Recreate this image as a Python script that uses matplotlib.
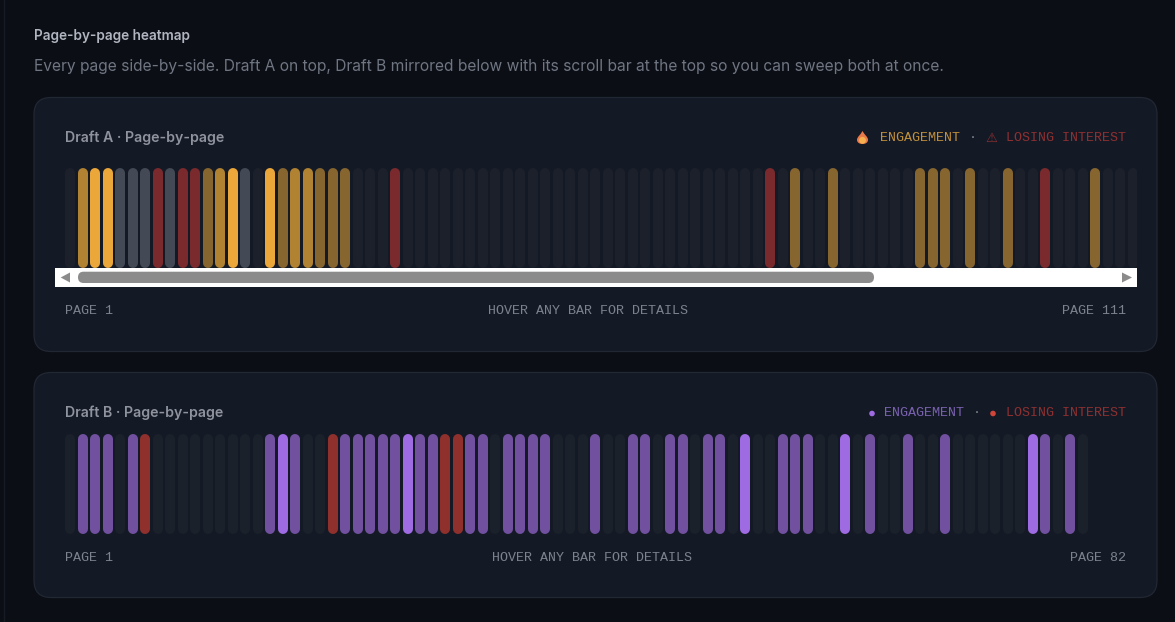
import matplotlib
matplotlib.use("Agg")
import matplotlib.pyplot as plt
from matplotlib.patches import FancyBboxPatch, Polygon, Rectangle, Circle, PathPatch
from matplotlib.path import Path

W, H = 1175, 622

# level per page: 0 none, 1 low, 2 mid, 3 high, 4 neutral, 5 losing interest
draft_a_levels = [
    0, 2, 3, 3, 4, 4, 4, 5, 4, 5, 5, 1, 2, 3, 4, 0, 3, 1, 2, 2, 1, 1, 1, 0, 0, 0, 5, 0, 0, 0,
    0, 0, 0, 0, 0, 0, 0, 0, 0, 0, 0, 0, 0, 0, 0, 0, 0, 0, 0, 0, 0, 0, 0, 0, 0, 0, 5, 0, 1, 0,
    0, 1, 0, 0, 0, 0, 0, 0, 1, 1, 1, 0, 1, 0, 0, 1, 0, 0, 5, 0, 0, 0, 1, 0, 0, 0,
]
draft_b_levels = [
    0, 1, 1, 1, 0, 1, 5, 0, 0, 0, 0, 0, 0, 0, 0, 0, 1, 3, 1, 0, 0, 5, 1, 1, 1, 1, 1, 3, 1, 1,
    5, 5, 1, 1, 0, 1, 1, 1, 1, 0, 0, 0, 1, 0, 0, 1, 1, 0, 1, 1, 0, 1, 1, 0, 3, 0, 0, 1, 1, 1,
    0, 0, 3, 0, 1, 0, 0, 1, 0, 0, 1, 0, 0, 0, 0, 0, 0, 3, 1, 0, 1, 0,
]

amber_colors = {0: "#1b202a", 1: "#86652f", 2: "#b08231", 3: "#eca73a", 4: "#434955", 5: "#7a2a2d"}
violet_colors = {0: "#1b212a", 1: "#71519f", 2: "#71519f", 3: "#9f6be3", 4: "#434955", 5: "#8f302d"}

BG = "#0b0e15"
CARD = "#141926"
CARD_EDGE = "#212733"
MONO = "Liberation Mono"
SANS = "Inter"
PITCH = 12.5
FIRST_X = 70
BAR_W = 10


def add_card(ax, top, bottom):
    box = FancyBboxPatch((34, top), 1123, bottom - top, boxstyle="round,pad=0,rounding_size=17",
                         fc=CARD, ec=CARD_EDGE, lw=0.9)
    ax.add_patch(box)


def add_heat(fig, levels, colors, left, right, top, bottom):
    # one axes per draft, x runs in page numbers
    heat = fig.add_axes([left / W, 1 - bottom / H, (right - left) / W, (bottom - top) / H])
    heat.set_xlim(1 + (left - FIRST_X) / PITCH, 1 + (right - FIRST_X) / PITCH)
    heat.set_ylim(0, bottom - top)
    heat.axis("off")
    pages = list(range(1, len(levels) + 1))
    cap = BAR_W / 2
    heat.vlines(pages, cap, bottom - top - cap, colors=[colors[v] for v in levels],
                linewidth=BAR_W * 72 / 100, capstyle="round")
    return heat


def mono(ax, x, y, s, color, ha="left", size=9.65):
    ax.text(x, y, s, color=color, family=MONO, fontsize=size, ha=ha, va="center")


def flame(ax, cx, top, bottom):
    # small flame icon built from bezier curves
    h = bottom - top
    outer = Path([(cx, top), (cx + 2, top + h * .3), (cx + 5.5, top + h * .45), (cx + 5.5, top + h * .68),
                  (cx + 5.5, bottom - 1), (cx + 2.5, bottom), (cx, bottom),
                  (cx - 2.5, bottom), (cx - 5.5, bottom - 1), (cx - 5.5, top + h * .68),
                  (cx - 5.5, top + h * .45), (cx - 2, top + h * .3), (cx, top)],
                 [Path.MOVETO] + [Path.CURVE4] * 12)
    ax.add_patch(PathPatch(outer, fc="#e8794a", ec="none"))
    ax.add_patch(Circle((cx, bottom - 3.7), 3.4, fc="#f4b04f", ec="none"))


fig = plt.figure(figsize=(W / 100, H / 100), dpi=100, facecolor=BG)
ax = fig.add_axes([0, 0, 1, 1])
ax.set_xlim(0, W)
ax.set_ylim(H, 0)
ax.axis("off")

ax.plot([3.5, 3.5], [0, H], color="#171b24", lw=1)

ax.text(34, 36, "Page-by-page heatmap", color="#b1b5bf", family=SANS, fontsize=9.8, fontweight="semibold", va="center")
ax.text(34, 67, "Every page side-by-side. Draft A on top, Draft B mirrored below with its scroll bar at the top so you can sweep both at once.",
        color="#6f7682", family=SANS, fontsize=11.2, va="center")

add_card(ax, 97.5, 351.5)
add_card(ax, 372.5, 597.5)

# Draft A header and legend
ax.text(65, 138, "Draft A · Page-by-page", color="#8e939e", family=SANS, fontsize=10.2, fontweight="semibold", va="center")
flame(ax, 862.5, 131, 144)
mono(ax, 880, 138, "ENGAGEMENT", "#c1903a")
mono(ax, 973, 138, "·", "#80868f", ha="center")
ax.text(991, 138, "\u26a0", color="#8e3030", family="DejaVu Sans", fontsize=9.5, ha="center", va="center")
mono(ax, 1126, 138, "LOSING INTEREST", "#8e3030", ha="right")

add_heat(fig, draft_a_levels, amber_colors, 55, 1137, 168, 268)

# scroll bar under Draft A
ax.add_patch(Rectangle((55, 268), 1082, 19, fc="white", ec="none", zorder=3))
ax.add_patch(FancyBboxPatch((78, 271.7), 796, 11.3, boxstyle="round,pad=0,rounding_size=5.6",
                            fc="#8b8b8b", ec="none", zorder=4))
ax.add_patch(Polygon([(70, 272.5), (70, 282.5), (60.7, 277.5)], fc="#8b8b8b", ec="none", zorder=4))
ax.add_patch(Polygon([(1122, 272.5), (1122, 282.5), (1132, 277.5)], fc="#8b8b8b", ec="none", zorder=4))

mono(ax, 65, 311, "PAGE 1", "#7c828e")
mono(ax, 588, 311, "HOVER ANY BAR FOR DETAILS", "#7c828e", ha="center")
mono(ax, 1126, 311, "PAGE 111", "#7c828e", ha="right")

# Draft B header and legend
ax.text(65, 413, "Draft B · Page-by-page", color="#8e939e", family=SANS, fontsize=10.2, fontweight="semibold", va="center")
ax.add_patch(Circle((872, 413.5), 2.8, fc="#9f6be3", ec="none"))
mono(ax, 884, 413, "ENGAGEMENT", "#7a62b0")
mono(ax, 977, 413, "·", "#80868f", ha="center")
ax.add_patch(Circle((993, 413.5), 2.8, fc="#d0453a", ec="none"))
mono(ax, 1126, 413, "LOSING INTEREST", "#8e3030", ha="right")

add_heat(fig, draft_b_levels, violet_colors, 55, 1137, 434, 534)

mono(ax, 65, 558, "PAGE 1", "#7c828e")
mono(ax, 592, 558, "HOVER ANY BAR FOR DETAILS", "#7c828e", ha="center")
mono(ax, 1126, 558, "PAGE 82", "#7c828e", ha="right")

fig.savefig("out.png", dpi=100, facecolor=BG)
